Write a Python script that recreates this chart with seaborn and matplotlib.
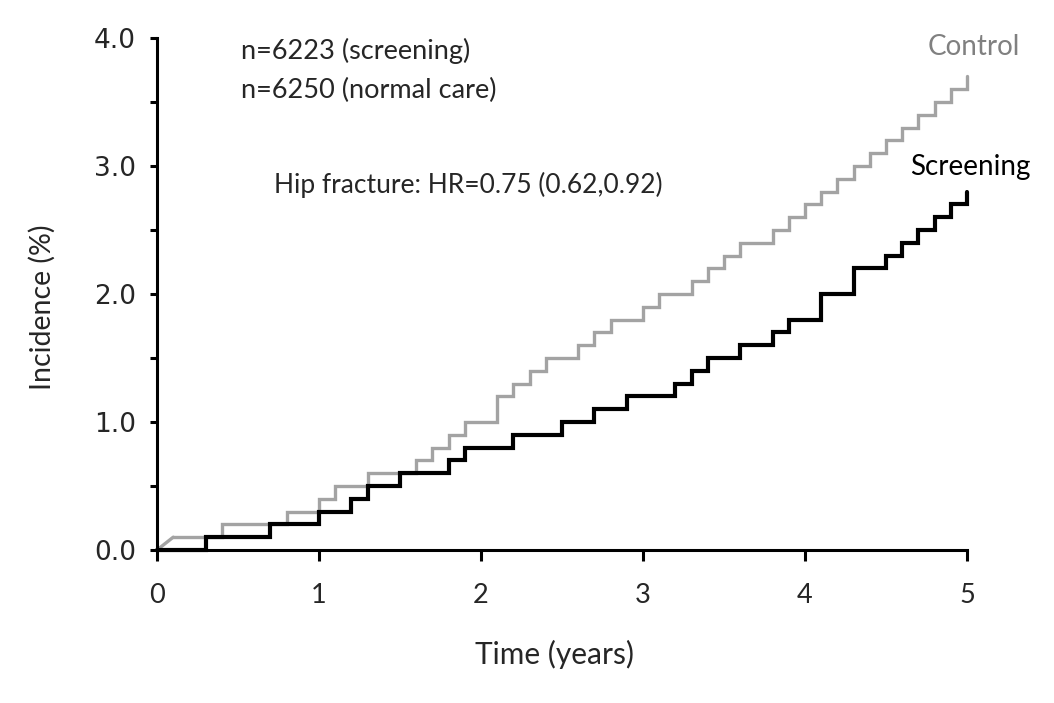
import matplotlib
matplotlib.use("Agg")
import matplotlib.pyplot as plt
import seaborn as sns
import numpy as np
from matplotlib.ticker import MultipleLocator, FixedLocator

# ---- data ----
control_t = [0.0, 0.1, 0.4, 0.8, 1.0, 1.1, 1.3, 1.6, 1.7, 1.8, 1.9, 2.1, 2.2, 2.3, 2.4,
             2.6, 2.7, 2.8, 3.0, 3.1, 3.3, 3.4, 3.5, 3.6, 3.8, 3.9, 4.0, 4.1, 4.2, 4.3,
             4.4, 4.5, 4.6, 4.7, 4.8, 4.9, 5.0]
control_y = [0.0, 0.1, 0.2, 0.3, 0.4, 0.5, 0.6, 0.7, 0.8, 0.9, 1.0, 1.2, 1.3, 1.4, 1.5,
             1.6, 1.7, 1.8, 1.9, 2.0, 2.1, 2.2, 2.3, 2.4, 2.5, 2.6, 2.7, 2.8, 2.9, 3.0,
             3.1, 3.2, 3.3, 3.4, 3.5, 3.6, 3.7]
screen_t = [0.0, 0.3, 0.7, 1.0, 1.2, 1.3, 1.5, 1.8, 1.9, 2.2, 2.5, 2.7, 2.9, 3.2, 3.3,
            3.4, 3.6, 3.8, 3.9, 4.1, 4.3, 4.5, 4.6, 4.7, 4.8, 4.9, 5.0]
screen_y = [0.0, 0.1, 0.2, 0.3, 0.4, 0.5, 0.6, 0.7, 0.8, 0.9, 1.0, 1.1, 1.2, 1.3, 1.4,
            1.5, 1.6, 1.7, 1.8, 2.0, 2.2, 2.3, 2.4, 2.5, 2.6, 2.7, 2.8]
x_ticks = [0, 1, 2, 3, 4, 5]
y_ticks = [0.0, 1.0, 2.0, 3.0, 4.0]
y_ticklabels = ["0.0", "1.0", "2.0", "3.0", "4.0"]

sns.set_theme(style="white")
plt.rcParams['font.family'] = ['Lato', 'DejaVu Sans']

fig = plt.figure(figsize=(10.54, 7.03), dpi=100)
ax = fig.add_axes([157/1054, 1-550/703, (967-157)/1054, (550-38)/703])

gray = "#a3a3a3"
# control: first short diagonal segment, then steps
sns.lineplot(x=control_t[:2], y=control_y[:2], ax=ax, color=gray, linewidth=2.4,
             estimator=None, sort=False, clip_on=False)
sns.lineplot(x=control_t[1:], y=control_y[1:], ax=ax, color=gray, linewidth=2.4,
             estimator=None, sort=False, drawstyle="steps-post", clip_on=False,
             solid_joinstyle="miter")
sns.lineplot(x=screen_t, y=screen_y, ax=ax, color="black", linewidth=3.0,
             estimator=None, sort=False, drawstyle="steps-post", clip_on=False,
             solid_joinstyle="miter")

ax.set_xlim(0, 5)
ax.set_ylim(0, 4)
for s in ["top", "right"]:
    ax.spines[s].set_visible(False)
for s in ["left", "bottom"]:
    ax.spines[s].set_color("black")
    ax.spines[s].set_linewidth(2.2)
ax.set_zorder(1)

ax.xaxis.set_major_locator(FixedLocator(x_ticks))
ax.set_xticklabels([str(v) for v in x_ticks], family=['Lato', 'DejaVu Sans'], fontsize=19.5)
ax.yaxis.set_major_locator(FixedLocator(y_ticks))
ax.set_yticklabels(y_ticklabels, family='DejaVu Sans', fontsize=19)
ax.yaxis.set_minor_locator(MultipleLocator(0.5))
ax.tick_params(axis="x", which="major", direction="out", length=8, width=2.2, color="black", pad=16, bottom=True)
ax.tick_params(axis="y", which="major", direction="out", length=5, width=2.2, color="black", pad=10, left=True)
ax.tick_params(axis="y", which="minor", direction="out", length=5, width=2.2, color="black", left=True)
ax.grid(False)

ax.set_xlabel("Time (years)", fontsize=21.5)
ax.set_ylabel("Incidence (%)", fontsize=20.5)
ax.xaxis.set_label_coords(0.491, -0.176)
ax.yaxis.set_label_coords(-0.125, 0.475)

ax.text(0.52, 3.9, "n=6223 (screening)", fontsize=19.5, va="center", ha="left")
ax.text(0.52, 3.59, "n=6250 (normal care)", fontsize=19.5, va="center", ha="left")
ax.text(0.72, 2.85, "Hip fracture: HR=0.75 (0.62,0.92)", fontsize=19, va="center", ha="left")
ax.text(5.33, 3.93, "Control", fontsize=20, va="center", ha="right", color="#808080", clip_on=False)
ax.text(4.65, 2.99, "Screening", fontsize=20, va="center", ha="left", color="black", clip_on=False)

fig.savefig("out.png", dpi=100, facecolor="white")
